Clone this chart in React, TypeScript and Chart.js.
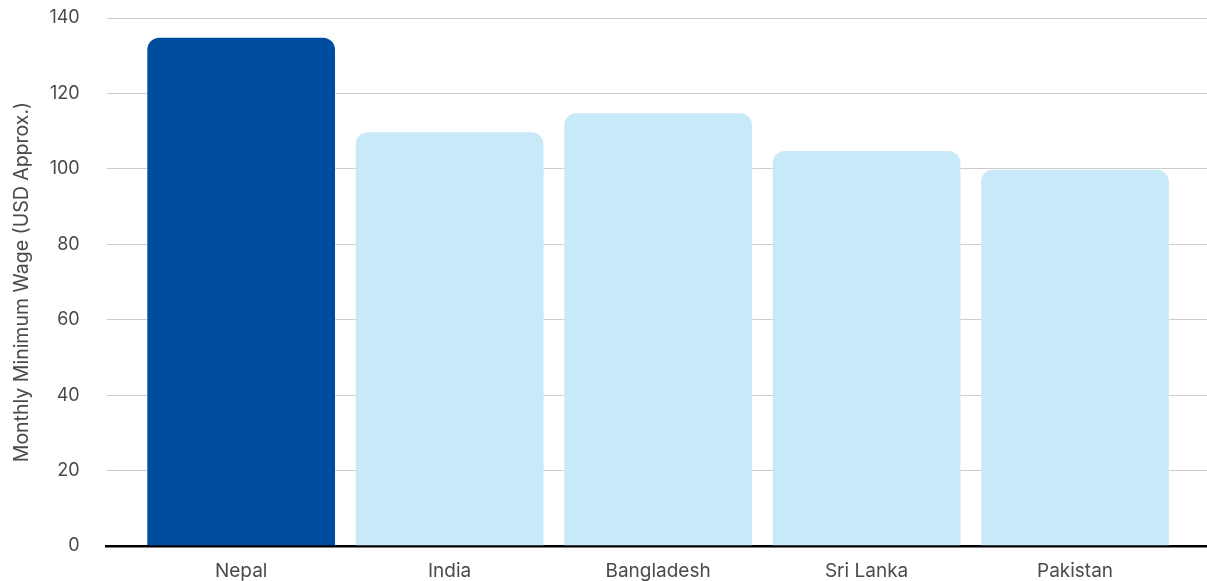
import React, { useEffect, useRef } from "react";
import { Chart, registerables } from "chart.js";

Chart.register(...registerables);

const countries = ["Nepal", "India", "Bangladesh", "Sri Lanka", "Pakistan"];
const minimumWageUsd = [135, 110, 115, 105, 100];
const barColors = ["#004C9E", "#C7E9F8", "#C7E9F8", "#C7E9F8", "#C7E9F8"];
const yAxisTitle = "Monthly Minimum Wage (USD Approx.)";

const FONT = "Inter, 'Noto Sans', sans-serif";
const TEXT = "#4a4a4a";

// Extra room inside the x scale, in category units, before the first and after the last bar
const X_INSET_START = 0.645;
const X_INSET_END = 0.633;

export default function App() {
  const canvasRef = useRef<HTMLCanvasElement | null>(null);

  useEffect(() => {
    document.body.style.margin = "0";
    const canvas = canvasRef.current;
    if (!canvas) return;
    const chart = new Chart(canvas, {
      type: "bar",
      data: {
        labels: countries,
        datasets: [
          {
            data: minimumWageUsd,
            backgroundColor: barColors,
            borderColor: "rgba(255,255,255,0.35)",
            borderWidth: 1,
            borderSkipped: "bottom",
            borderRadius: { topLeft: 13, topRight: 13, bottomLeft: 0, bottomRight: 0 },
            barPercentage: 0.91,
            categoryPercentage: 1,
          },
        ],
      },
      options: {
        responsive: false,
        animation: false,
        maintainAspectRatio: false,
        layout: { padding: { top: 18, left: 8, right: 0, bottom: 0 } },
        plugins: {
          legend: { display: false },
          tooltip: { enabled: false },
        },
        scales: {
          x: {
            offset: false,
            afterBuildTicks: (axis: any) => {
              const n = countries.length;
              axis._startValue = -X_INSET_START;
              axis._valueRange = n - 1 + X_INSET_START + X_INSET_END;
            },
            // invisible tick marks leave the gap between the axis line and the labels
            grid: { display: true, color: "transparent", drawTicks: true, tickLength: 16, tickColor: "transparent" },
            border: { display: true, color: "#000000", width: 2.5 },
            ticks: {
              color: TEXT,
              font: { family: FONT, size: 19, lineHeight: 1 },
              padding: 0,
            },
          },
          y: {
            min: 0,
            max: 140,
            grid: { color: "#cccccc", lineWidth: 1, drawTicks: true, tickLength: 25, tickColor: "transparent" },
            border: { display: false },
            ticks: {
              stepSize: 20,
              color: TEXT,
              font: { family: FONT, size: 18 },
              padding: 2,
            },
            title: {
              display: true,
              text: yAxisTitle,
              color: TEXT,
              font: { family: FONT, size: 19.5 },
              padding: { top: 2, bottom: 14 },
            },
          },
        },
      },
    });
    return () => chart.destroy();
  }, []);

  return <canvas ref={canvasRef} width={1207} height={581} style={{ display: "block" }} />;
}
